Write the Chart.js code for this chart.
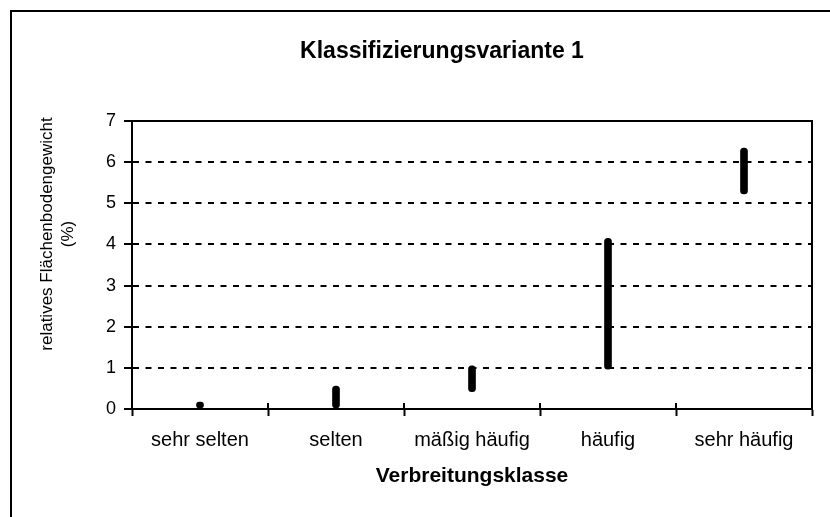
<!DOCTYPE html>
<html>
<head>
<meta charset="utf-8">
<script src="https://cdn.jsdelivr.net/npm/chart.js@4.4.0/dist/chart.umd.min.js"></script>
<style>
  html, body { margin: 0; padding: 0; background: #fff; }
  #wrap { position: relative; width: 830px; height: 517px; }
  #frame { position: absolute; left: 10px; top: 10px; right: 0; bottom: 0;
           border-left: 2px solid #000; border-top: 2px solid #000; pointer-events: none; }
</style>
</head>
<body>
<div id="wrap">
  <canvas id="rangeChart"></canvas>
  <div id="frame"></div>
</div>
<script>
// Data (visible extent of each range line)
const categories = ['sehr selten', 'selten', 'mäßig häufig', 'häufig', 'sehr häufig'];
const lowValues = [0, 0, 0.42, 0.97, 5.23];
const highValues = [0.17, 0.56, 1.05, 4.15, 6.34];
const yTicks = [0, 1, 2, 3, 4, 5, 6, 7];

const chartTitle = 'Klassifizierungsvariante 1';
const xTitle = 'Verbreitungsklasse';
const yTitle = ['relatives Flächenbodengewicht', '(%)'];

Chart.defaults.font.family = "'Liberation Sans', Arial, sans-serif";
Chart.defaults.color = '#000';

// box round the plot, inner part of the x ticks, chart title and y title
const framePlugin = {
    id: 'framePlugin',
    afterDatasetsDraw(chart) {
        const ctx = chart.ctx;
        const a = chart.chartArea;
        ctx.save();
        ctx.strokeStyle = '#000';
        ctx.lineWidth = 2;
        ctx.beginPath();
        ctx.moveTo(a.left, a.top);
        ctx.lineTo(a.right, a.top);
        ctx.lineTo(a.right, a.bottom);
        ctx.stroke();

        const step = (a.right - a.left) / categories.length;
        ctx.beginPath();
        for (let i = 0; i <= categories.length; i++) {
            const px = Math.round(a.left + i * step);
            ctx.moveTo(px, a.bottom - 6);
            ctx.lineTo(px, a.bottom);
        }
        ctx.stroke();

        ctx.fillStyle = '#000';
        ctx.textAlign = 'center';
        ctx.textBaseline = 'middle';
        ctx.font = "bold 23px 'Liberation Sans', Arial, sans-serif";
        ctx.fillText(chartTitle, (a.left + a.right) / 2 - 30, 52);

        ctx.font = "17px 'Liberation Sans', Arial, sans-serif";
        const xs = [47, 68];
        yTitle.forEach((line, i) => {
            ctx.save();
            ctx.translate(xs[i], 234);
            ctx.rotate(-Math.PI / 2);
            ctx.fillText(line, 0, 0);
            ctx.restore();
        });
        ctx.restore();
    }
};

const ctx = document.getElementById('rangeChart').getContext('2d');
new Chart(ctx, {
    type: 'bar',
    data: {
        labels: categories,
        datasets: [{
            data: categories.map((c, i) => [lowValues[i], highValues[i]]),
            backgroundColor: '#000',
            barThickness: 7,
            borderRadius: 3.5,
            borderSkipped: false
        }]
    },
    options: {
        responsive: true,
        maintainAspectRatio: false,
        animation: false,
        layout: { padding: { left: 11, right: 18, top: 121, bottom: 20 } },
        plugins: {
            legend: { display: false },
            tooltip: { enabled: false },
            title: { display: false }
        },
        scales: {
            x: {
                afterFit: (scale) => { scale.height = 88; },
                grid: {
                    display: true,
                    drawOnChartArea: false,
                    offset: true,
                    color: '#000',
                    tickLength: 7,
                    tickColor: '#000',
                    tickWidth: 2
                },
                border: { color: '#000', width: 2 },
                ticks: { font: { size: 20 }, color: '#000', padding: 12, maxRotation: 0 },
                title: {
                    display: true,
                    text: xTitle,
                    font: { size: 21, weight: 'bold' },
                    color: '#000',
                    padding: { top: 0, bottom: 8 }
                }
            },
            y: {
                min: 0,
                max: 7,
                afterFit: (scale) => { scale.width = 121; },
                afterBuildTicks: (scale) => { scale.ticks = yTicks.map(v => ({ value: v })); },
                grid: {
                    color: '#000',
                    lineWidth: 2,
                    tickLength: 8,
                    tickColor: '#000',
                    tickWidth: 2
                },
                border: { color: '#000', width: 2, dash: [6, 6.5] },
                ticks: { font: { size: 18 }, color: '#000', padding: 8 }
            }
        }
    },
    plugins: [framePlugin]
});
</script>
</body>
</html>
